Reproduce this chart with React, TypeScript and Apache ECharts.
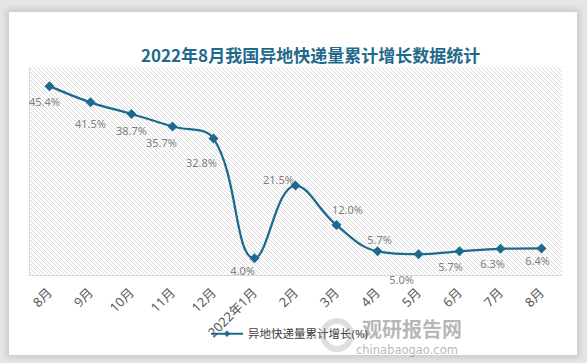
import React, { useEffect, useRef } from "react";
import * as echarts from "echarts";

const categories = ["8月", "9月", "10月", "11月", "12月", "2022年1月", "2月", "3月", "4月", "5月", "6月", "7月", "8月"];
const growth = [45.4, 41.5, 38.7, 35.7, 32.8, 4.0, 21.5, 12.0, 5.7, 5.0, 5.7, 6.3, 6.4];
const labelOffsets: [number, number][] = [
  [-5, 15], [0, 21], [0, 16], [-11, 16], [-12, 24], [-12, 12], [-17, -6],
  [11, -16], [2, -12], [-17, 25], [-9, 15], [-8, 15], [-4, 12],
];
const seriesName = "异地快递量累计增长(%)";
const titleText = "2022年8月我国异地快递量累计增长数据统计";

function makeHatch(): HTMLCanvasElement {
  const c = document.createElement("canvas");
  c.width = 4;
  c.height = 4;
  const ctx = c.getContext("2d")!;
  ctx.fillStyle = "#ffffff";
  ctx.fillRect(0, 0, 4, 4);
  ctx.fillStyle = "#d9d9d9";
  for (let i = 0; i < 4; i++) ctx.fillRect(i, i, 1, 1);
  return c;
}

export default function App() {
  const ref = useRef<HTMLDivElement>(null);
  useEffect(() => {
    if (!ref.current) return;
    const chart = echarts.init(ref.current, undefined, { renderer: "svg" });
    const hatch = makeHatch();
    chart.setOption({
      animation: false,
      textStyle: { fontFamily: "'Noto Sans', 'Noto Sans CJK SC', sans-serif" },
      title: {
        text: titleText,
        left: 136,
        top: 41,
        textStyle: { fontSize: 17, fontWeight: "bold", color: "#1f6a8c", fontFamily: "'Noto Sans CJK SC', sans-serif" },
      },
      graphic: [
        {
          type: "rect",
          left: 29,
          top: 67,
          z: -10,
          shape: { width: 533, height: 208 },
          style: { fill: { image: hatch, repeat: "repeat" } as any },
        },
        {
          type: "line",
          z: -5,
          shape: { x1: 29.5, y1: 67, x2: 29.5, y2: 275 },
          style: { stroke: "#d9d9d9", lineWidth: 1 },
        },
        {
          type: "ring",
          left: 320,
          top: 318,
          z: 100,
          shape: { r: 17, r0: 11 },
          style: { fill: "rgba(150,150,150,0.3)" },
        },
        {
          type: "text",
          left: 362,
          top: 316,
          z: 100,
          style: { text: "观研报告网", fontSize: 20, lineHeight: 24, fontWeight: "bold", fill: "rgba(120,120,120,0.55)", fontFamily: "'Noto Sans CJK SC', sans-serif" },
        },
        {
          type: "text",
          left: 356,
          top: 343,
          z: 100,
          style: { text: "chinabaogao.com", fontSize: 11.5, lineHeight: 13, fill: "rgba(120,120,120,0.55)", fontFamily: "'DejaVu Sans', sans-serif" },
        },
      ],
      grid: { left: 29, right: 25, top: 67, bottom: 88, containLabel: false },
      xAxis: {
        type: "category",
        data: categories,
        boundaryGap: true,
        axisLine: { show: true, lineStyle: { color: "#d9d9d9" } },
        axisTick: { show: false },
        axisLabel: { rotate: 45, color: "#595959", fontSize: 13, margin: 15, interval: 0 },
      },
      yAxis: {
        type: "value",
        min: 0,
        max: 50,
        show: false,
        splitLine: { show: false },
      },
      legend: {
        top: 323,
        left: 205,
        itemWidth: 32,
        itemHeight: 8,
        textStyle: { color: "#404040", fontSize: 11.5 },
        data: [{ name: seriesName }],
      },
      series: [
        {
          name: seriesName,
          type: "line",
          smooth: 0.4,
          data: growth.map((v, i) => ({
            value: v,
            label: { offset: labelOffsets[i] },
          })),
          symbol: "diamond",
          symbolSize: 10,
          lineStyle: { color: "#1d6a8e", width: 2.25 },
          itemStyle: { color: "#1d6a8e" },
          label: {
            show: true,
            position: "inside",
            formatter: (p: any) => p.value.toFixed(1) + "%",
            color: "#7f7f7f",
            fontSize: 11,
          },
        },
      ],
    });
    return () => chart.dispose();
  }, []);
  return (
    <div style={{ position: "fixed", left: 0, top: 0, width: 587, height: 363, background: "#e6e6e6" }}>
      <div
        style={{
          position: "absolute",
          left: 9,
          top: 12,
          width: 568,
          height: 343,
          background: "#ffffff",
          boxShadow: "0 0 6px 3px rgba(0,0,0,0.12)",
        }}
      />
      <div ref={ref} style={{ position: "absolute", left: 0, top: 0, width: 587, height: 363 }} />
    </div>
  );
}
